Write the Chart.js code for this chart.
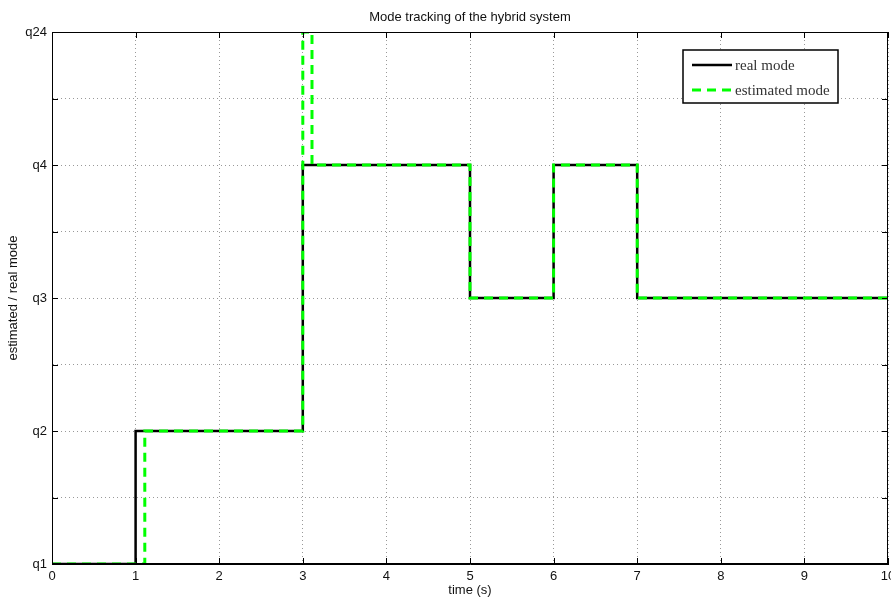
<!DOCTYPE html>
<html>
<head>
<meta charset="utf-8">
<script src="https://cdn.jsdelivr.net/npm/chart.js@4"></script>
<style>
  html, body { margin: 0; padding: 0; background: #fff; }
  #wrap { width: 891px; height: 598px; }
</style>
</head>
<body>
<div id="wrap"><canvas id="modeChart"></canvas></div>
<script>
const modeLabels = ["q1", "q2", "q3", "q4", "q24"]

const realTimes = [0, 1, 3, 5, 6, 7, 10]
const realModes = [0, 1, 3, 2, 3, 2, 2]

const estTimes = [0, 1.11, 3.0, 3.11, 5, 6, 7, 10]
const estModes = [0, 1, 4, 3, 2, 3, 2, 2]

const toPoints = (xs, ys) => xs.map((x, i) => ({ x, y: ys[i] }))

const font = { family: "'Liberation Sans', Arial, sans-serif", size: 13 }

// frame, inward ticks and the boxed legend, MATLAB style
const framePlugin = {
    id: "frame",
    afterDraw: chart => {
        const { ctx, chartArea: a, scales: { x, y } } = chart
        ctx.save()
        ctx.strokeStyle = "#000"
        ctx.lineWidth = 1
        ctx.strokeRect(a.left + 0.5, a.top + 0.5, a.right - a.left - 1, a.bottom - a.top - 1)
        ctx.beginPath()
        x.ticks.forEach(t => {
            const px = Math.round(x.getPixelForValue(t.value)) + 0.5
            ctx.moveTo(px, a.bottom); ctx.lineTo(px, a.bottom - 6)
            ctx.moveTo(px, a.top); ctx.lineTo(px, a.top + 6)
        })
        y.ticks.forEach(t => {
            const py = Math.round(y.getPixelForValue(t.value)) + 0.5
            ctx.moveTo(a.left, py); ctx.lineTo(a.left + 6, py)
            ctx.moveTo(a.right, py); ctx.lineTo(a.right - 6, py)
        })
        ctx.stroke()

        // legend
        const lx = 683, ly = 50, lw = 155, lh = 53
        ctx.fillStyle = "#fff"
        ctx.fillRect(lx, ly, lw, lh)
        ctx.lineWidth = 1.5
        ctx.strokeRect(lx, ly, lw, lh)
        ctx.font = "15px 'Liberation Serif', 'DejaVu Serif', serif"
        ctx.textBaseline = "middle"
        ctx.fillStyle = "#333"
        chart.data.datasets.forEach((ds, i) => {
            const yy = ly + 15 + i * 25
            ctx.beginPath()
            ctx.strokeStyle = ds.borderColor
            ctx.lineWidth = ds.borderWidth
            ctx.setLineDash(ds.borderDash || [])
            ctx.moveTo(lx + 9, yy); ctx.lineTo(lx + 49, yy)
            ctx.stroke()
            ctx.setLineDash([])
            ctx.fillText(ds.label, lx + 52, yy + 1)
        })
        ctx.restore()
    }
}

new Chart(document.getElementById("modeChart"), {
    type: "line",
    data: {
        datasets: [
            {
                label: "real mode",
                data: toPoints(realTimes, realModes),
                borderColor: "#000",
                borderWidth: 2.5,
                stepped: "before",
                pointRadius: 0,
                order: 2
            },
            {
                label: "estimated mode",
                data: toPoints(estTimes, estModes),
                borderColor: "#00ff00",
                borderWidth: 3,
                borderDash: [9, 6],
                stepped: "before",
                pointRadius: 0,
                order: 1
            }
        ]
    },
    options: {
        responsive: true,
        maintainAspectRatio: false,
        animation: false,
        layout: { padding: { top: 32, right: 3, left: 0, bottom: 0 } },
        plugins: {
            legend: { display: false },
            tooltip: { enabled: false }
        },
        scales: {
            x: {
                type: "linear",
                min: 0,
                max: 10,
                ticks: { stepSize: 1, color: "#111", font, padding: 5, maxRotation: 0 },
                grid: { color: "#999", drawTicks: false },
                border: { display: true, color: "#000", dash: [1, 3] },
                title: { display: true, text: "time (s)", color: "#111", font, padding: 0 },
                afterFit: s => { s.height = 34; s.paddingRight = 0; s.paddingLeft = 0 }
            },
            y: {
                min: 0,
                max: 4,
                ticks: {
                    stepSize: 0.5,
                    color: "#111",
                    font,
                    padding: 5,
                    callback: v => Number.isInteger(v) ? modeLabels[v] : ""
                },
                grid: { color: "#999", drawTicks: false },
                border: { display: true, color: "#000", dash: [1, 3] },
                title: { display: true, text: "estimated / real mode", color: "#111", font, padding: { top: 6, bottom: 0 } },
                afterFit: s => { s.width = 52; s.paddingTop = 0; s.paddingBottom = 0 }
            }
        }
    },
    plugins: [framePlugin, {
        id: "topTitle",
        beforeDraw: chart => {
            const { ctx } = chart
            ctx.save()
            ctx.font = "13px 'Liberation Sans', Arial, sans-serif"
            ctx.fillStyle = "#111"
            ctx.textAlign = "center"
            ctx.textBaseline = "middle"
            ctx.fillText("Mode tracking of the hybrid system", 470, 17)
            ctx.restore()
        }
    }]
})
</script>
</body>
</html>
